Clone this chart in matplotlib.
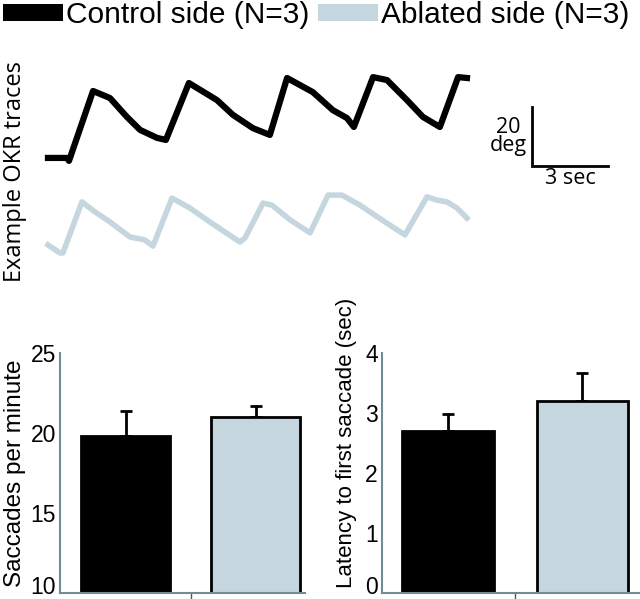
import numpy as np
import matplotlib
matplotlib.use("Agg")
import matplotlib.pyplot as plt
import matplotlib.transforms as mtransforms
from matplotlib.patches import Patch

plt.rcParams.update({
    "font.family": ["Liberation Sans", "DejaVu Sans"],
})

# ---- data ----
groups = ["Control side (N=3)", "Ablated side (N=3)"]
colors = ["#000000", "#c6d6df"]

saccade_rate = [19.8, 21.0]
saccade_rate_sem = [1.6, 0.7]

latency = [2.70, 3.20]
latency_sem = [0.28, 0.47]

# example OKR traces (time in s, eye position in deg)
ctrl_t = [0, 0.75, 0.83, 1.78, 2.45, 3.12, 3.64, 4.31, 4.66, 5.57, 6.68, 7.31, 8.10,
          8.77, 9.45, 10.47, 11.26, 11.82, 12.09, 12.85, 13.40, 14.19, 14.82, 15.49,
          16.21, 16.56]
ctrl_deg = [34.6, 34.6, 33.6, 57.3, 54.9, 48.5, 44.1, 41.4, 40.7, 60.0, 54.2, 49.2, 44.7,
            42.4, 61.7, 56.9, 50.8, 48.1, 45.1, 62.0, 61.0, 54.2, 48.5, 45.1,
            62.0, 61.7]

abl_t = [0, 0.47, 0.59, 1.34, 1.86, 2.45, 3.24, 3.83, 4.15, 4.90, 5.61, 6.40, 7.11,
         7.59, 7.79, 8.50, 8.85, 9.57, 10.36, 11.07, 11.62, 12.33, 13.32, 14.11,
         14.98, 15.38, 15.77, 16.17, 16.56]
abl_deg = [5.1, 2.4, 2.4, 19.7, 16.3, 12.9, 7.8, 6.8, 4.7, 21.0, 17.6, 12.9, 8.8,
           6.1, 7.5, 19.3, 18.6, 13.6, 9.2, 22.0, 22.0, 18.6, 12.9, 8.5,
           21.4, 20.3, 19.7, 17.6, 14.2]

W, H = 640, 599
fig = plt.figure(figsize=(W / 100, H / 100), dpi=100)


def rect(x0, y0, x1, y1):
    # pixel box -> figure fraction
    return [x0 / W, 1 - y1 / H, (x1 - x0) / W, (y1 - y0) / H]


# ---- traces panel ----
axt = fig.add_axes(rect(40, 60, 620, 300))
axt.plot(ctrl_t, ctrl_deg, color=colors[0], lw=4.5, solid_joinstyle="round")
axt.plot(abl_t, abl_deg, color=colors[1], lw=4.0, solid_joinstyle="round")
axt.set_xlim(-0.316, 22.61)
axt.set_ylim(-13.56, 67.8)
axt.axis("off")

# scale bar: 3 sec x 20 deg
sb_x, sb_y = 19.13, 31.9
axt.plot([sb_x, sb_x, sb_x + 3], [sb_y + 20, sb_y, sb_y], color="black", lw=2.0,
         solid_joinstyle="miter")
axt.text(sb_x - 0.2, sb_y + 10, "20\ndeg", ha="right", va="center",
         multialignment="center", fontsize=15.5, family="Open Sans", linespacing=0.85)
axt.text(sb_x + 1.5, sb_y - 0.8, "3 sec", ha="center", va="top", fontsize=15.5,
         family="Open Sans")

fig.text(15 / W, 1 - 172 / H, "Example OKR traces", rotation=90, ha="center",
         va="center", fontsize=17, family="Open Sans")

# ---- legend ----
handles = [Patch(facecolor=c, edgecolor="none") for c in colors]
fig.legend(handles, groups, loc="upper left", bbox_to_anchor=(3 / W, 1 - 1 / H),
           ncol=2, frameon=False, fontsize=21.5, handlelength=2.0, handleheight=0.5,
           handletextpad=0.1, columnspacing=0.3, borderaxespad=0, borderpad=0)

spine_col = "#6f8e93"


def bar_panel(ax, vals, sems, ylim, yticks, xlim):
    x = np.arange(len(vals))
    ax.bar(x, vals, width=0.68, color=colors, edgecolor="black", linewidth=2,
           bottom=0, zorder=2)
    ax.errorbar(x, vals, yerr=[np.zeros(len(vals)), sems], fmt="none",
                ecolor="black", elinewidth=2, capsize=4.5, capthick=2, zorder=1)
    ax.set_ylim(*ylim)
    ax.set_yticks(yticks)
    ax.set_xlim(*xlim)
    ax.set_xticks([0.5])
    ax.set_xticklabels([])
    ax.tick_params(axis="x", direction="out", length=5, width=1, color="#555555")
    ax.tick_params(axis="y", length=0, pad=3, labelsize=16.5)
    for s in ["top", "right"]:
        ax.spines[s].set_visible(False)
    for s in ["left", "bottom"]:
        ax.spines[s].set_color(spine_col)
        ax.spines[s].set_linewidth(1.5)
    # lift the lowest tick label a little so it stays inside the figure
    lab = ax.get_yticklabels()[0]
    lab.set_transform(lab.get_transform() +
                      mtransforms.ScaledTranslation(0, 8 / 100, fig.dpi_scale_trans))


ax1 = fig.add_axes(rect(60, 353, 305, 593))
bar_panel(ax1, saccade_rate, saccade_rate_sem, (10, 25), [10, 15, 20, 25], (-0.504, 1.38))
ax1.set_ylabel("Saccades per minute", fontsize=17.5)
ax1.yaxis.set_label_coords(-34 / 245, 0.50)

ax2 = fig.add_axes(rect(382, 353, 640, 593))
bar_panel(ax2, latency, latency_sem, (0, 4), [0, 1, 2, 3, 4], (-0.49, 1.43))
ax2.set_ylabel("Latency to first saccade (sec)", fontsize=16)
ax2.yaxis.set_label_coords(-25 / 258, 0.625)

fig.savefig("out.png", dpi=100, facecolor="white")
